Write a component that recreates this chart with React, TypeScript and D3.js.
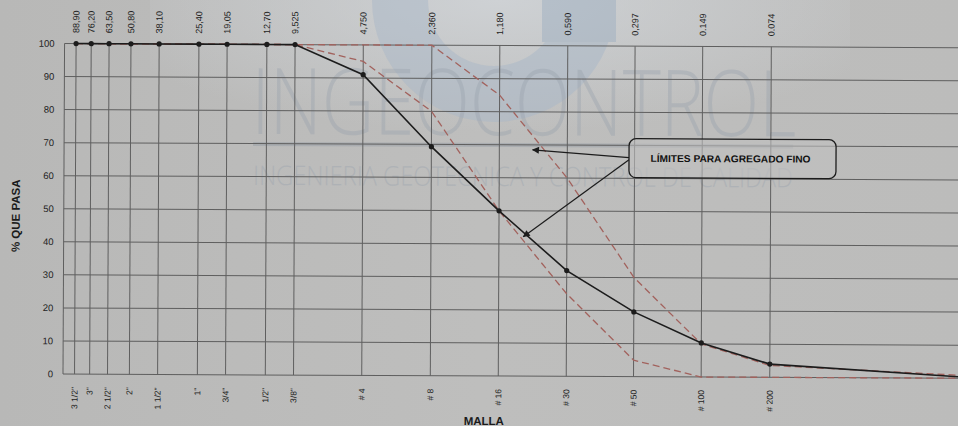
import React from "react";
import * as d3 from "d3";

// ---- data ----
const sieveSizes = [88.9, 76.2, 63.5, 50.8, 38.1, 25.4, 19.05, 12.7, 9.525, 4.75, 2.36, 1.18, 0.59, 0.297, 0.149, 0.074];
const sizeLabels = ["88,90", "76,20", "63,50", "50,80", "38,10", "25,40", "19,05", "12,70", "9,525", "4,750", "2,360", "1,180", "0,590", "0,297", "0.149", "0.074"];
const sieveNames = ['3 1/2"', '3"', '2 1/2"', '2"', '1 1/2"', '1"', '3/4"', '1/2"', '3/8"', "# 4", "# 8", "# 16", "# 30", "# 50", "# 100", "# 200"];
const passing = [100, 100, 100, 100, 100, 100, 100, 100, 100, 91, 69.3, 50, 32, 19.6, 10.3, 4];
const upperLimit = [100, 100, 100, 100, 100, 100, 100, 100, 100, 100, 100, 85, 60, 30, 10, 3.6];
const lowerLimit = [100, 100, 100, 100, 100, 100, 100, 100, 100, 95, 80, 50, 25, 5, 0, 0];
// curve ends at the right border of the graph paper
const tailSize = 0.01;
const passingTail = 0.3;
const upperTail = 0.8;
const lowerTail = 0;
const yTicks = [0, 10, 20, 30, 40, 50, 60, 70, 80, 90, 100];
const calloutText = "LÍMITES PARA AGREGADO FINO";
// arrow targets: [sieve size (mm), % passing]
const arrowTargets: [number, number][] = [[0.84, 68.5], [0.92, 42.2]];

const W = 958;
const H = 426;

export default function App() {
  const x = d3.scaleLog().domain([100, 0.01]).range([63, 966]);
  const y = d3.scaleLinear().domain([0, 100]).range([374, 43.5]);
  const x0 = 63;
  const xr = 1000;

  const line = d3
    .line<[number, number]>()
    .x((d) => x(d[0]))
    .y((d) => y(d[1]));

  const solidPts: [number, number][] = sieveSizes.map((s, i) => [s, passing[i]] as [number, number]);
  solidPts.push([tailSize, passingTail]);
  const upperPts: [number, number][] = sieveSizes.map((s, i) => [s, upperLimit[i]] as [number, number]);
  upperPts.push([tailSize, upperTail]);
  const lowerPts: [number, number][] = sieveSizes.map((s, i) => [s, lowerLimit[i]] as [number, number]);
  lowerPts.push([tailSize, lowerTail]);

  const box = { x: 628, y: 136, w: 207, h: 39 };
  const arrowStart: [number, number][] = [
    [box.x, 155],
    [box.x, 157],
  ];

  const grid = "#5f5f5f";
  const dashColor = "#a2625d";
  const ink = "#1c1c1c";
  const font = "Arial, 'Liberation Sans', sans-serif";

  return (
    <svg
      width={W}
      height={H}
      viewBox={`0 0 ${W} ${H}`}
      style={{ position: "absolute", left: 0, top: 0, display: "block" }}
    >
      <defs>
        <linearGradient id="bg" x1="0" y1="0" x2="1" y2="0">
          <stop offset="0" stopColor="#b8b8b7" />
          <stop offset="0.5" stopColor="#bebebd" />
          <stop offset="1" stopColor="#bcbcbb" />
        </linearGradient>
        <radialGradient id="glow" cx="0.5" cy="0" r="0.6">
          <stop offset="0" stopColor="#d2d6da" stopOpacity="0.8" />
          <stop offset="1" stopColor="#d2d6da" stopOpacity="0" />
        </radialGradient>
        <marker id="ah" viewBox="0 0 10 10" refX="9" refY="5" markerWidth="9" markerHeight="7" orient="auto-start-reverse" markerUnits="userSpaceOnUse">
          <path d="M0,0 L10,5 L0,10 z" fill={ink} />
        </marker>
      </defs>
      <rect x={0} y={0} width={W} height={H} fill="url(#bg)" />
      <rect x={150} y={0} width={700} height={220} fill="url(#glow)" />

      {/* watermark logo */}
      <g opacity={0.5}>
        <path
          d="M 372 0 A 122 122 0 0 0 616 0 L 560 0 A 66 66 0 0 1 428 0 Z"
          fill="#a9b8c8"
        />
        <rect x={542} y={0} width={74} height={42} fill="#9fb0c2" />
      </g>

      <g transform="rotate(0.27 63 374)">
        {/* watermark text */}
        <g fill="#9aa3ae" opacity={0.4} fontFamily="'Open Sans', Lato, sans-serif">
          <text x={250} y={133} fontSize={92} fontWeight={300} textLength={545} lengthAdjust="spacingAndGlyphs">
            INGEOCONTROL
          </text>
          <rect x={252} y={141} width={540} height={4} fill="#8e96a0" />
          <text x={252} y={184} fontSize={27} fontWeight={300} textLength={540} lengthAdjust="spacingAndGlyphs">
            INGENIERIA GEOTECNICA Y CONTROL DE CALIDAD
          </text>
        </g>

        {/* horizontal grid */}
        {yTicks.map((t) => (
          <line key={"h" + t} x1={x0} x2={xr} y1={y(t)} y2={y(t)} stroke={grid} strokeWidth={1} />
        ))}
        {/* vertical grid */}
        <line x1={x0} x2={x0} y1={y(100)} y2={y(0)} stroke={grid} strokeWidth={1} />
        {sieveSizes.map((s) => (
          <line key={"v" + s} x1={x(s)} x2={x(s)} y1={y(100)} y2={y(0)} stroke={grid} strokeWidth={1} />
        ))}

        {/* y tick labels */}
        {yTicks.map((t) => (
          <text key={"yl" + t} x={53} y={y(t)} dy="0.35em" textAnchor="end" fontSize={9.5} fontFamily={font} fill="#222">
            {t}
          </text>
        ))}

        {/* top labels: sieve openings */}
        {sieveSizes.map((s, i) => (
          <text
            key={"tl" + i}
            transform={`translate(${x(s)},33) rotate(-90)`}
            dy="0.35em"
            textAnchor="start"
            fontSize={9}
            fontFamily={font}
            fill="#222"
          >
            {sizeLabels[i]}
          </text>
        ))}

        {/* bottom labels: sieve names */}
        {sieveSizes.map((s, i) => (
          <text
            key={"bl" + i}
            transform={`translate(${x(s)},387) rotate(-90)`}
            dy="0.35em"
            textAnchor="end"
            fontSize={8.5}
            fontFamily={font}
            fill="#222"
          >
            {sieveNames[i]}
          </text>
        ))}

        {/* limits */}
        <path d={line(upperPts) || ""} fill="none" stroke={dashColor} strokeWidth={1.3} strokeDasharray="7 4" />
        <path d={line(lowerPts) || ""} fill="none" stroke={dashColor} strokeWidth={1.3} strokeDasharray="7 4" />

        {/* grading curve */}
        <path d={line(solidPts) || ""} fill="none" stroke={ink} strokeWidth={1.6} />
        {solidPts.slice(0, sieveSizes.length).map((d, i) => (
          <circle key={"p" + i} cx={x(d[0])} cy={y(d[1])} r={2.6} fill={ink} />
        ))}

        {/* callout */}
        {arrowTargets.map((t, i) => (
          <line
            key={"ar" + i}
            x1={arrowStart[i][0]}
            y1={arrowStart[i][1]}
            x2={x(t[0])}
            y2={y(t[1])}
            stroke={ink}
            strokeWidth={1.2}
            markerEnd="url(#ah)"
          />
        ))}
        <rect x={box.x} y={box.y} width={box.w} height={box.h} rx={7} fill="#c0c0bf" fillOpacity={0.6} stroke={ink} strokeWidth={1.3} />
        <text
          x={box.x + box.w / 2 - 2}
          y={box.y + box.h / 2}
          dy="0.36em"
          textAnchor="middle"
          fontSize={10}
          fontWeight="bold"
          fontFamily={font}
          fill="#111"
          textLength={160}
          lengthAdjust="spacingAndGlyphs"
        >
          {calloutText}
        </text>

        {/* axis titles */}
        <text
          transform="translate(15,216) rotate(-90)"
          dy="0.35em"
          textAnchor="middle"
          fontSize={11.5}
          fontWeight="bold"
          fontFamily={font}
          fill="#1a1a1a"
        >
          % QUE PASA
        </text>
        <text x={484} y={423} textAnchor="middle" fontSize={11.5} fontWeight="bold" fontFamily={font} fill="#1a1a1a">
          MALLA
        </text>
      </g>
    </svg>
  );
}
